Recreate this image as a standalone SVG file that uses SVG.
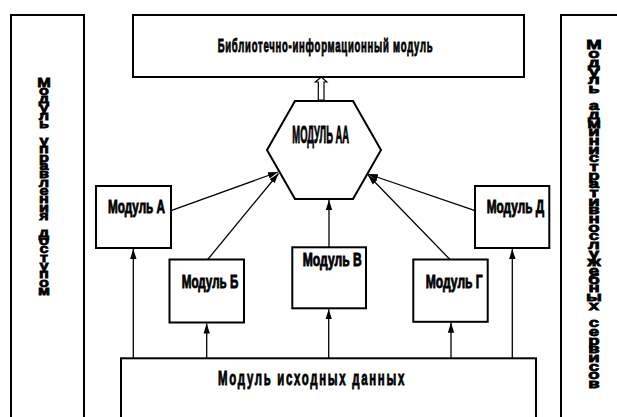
<svg xmlns="http://www.w3.org/2000/svg" width="617" height="417" viewBox="0 0 617 417">
<style>
.box{fill:#fff;stroke:#000;stroke-width:2}
.lbl{font-family:"Liberation Sans",Arial,sans-serif;font-weight:bold;fill:#000;stroke:#000;stroke-width:0.9;text-anchor:middle}
.vt{font-family:"Liberation Sans",Arial,sans-serif;font-weight:bold;font-size:15.5px;fill:#000;stroke:#000;stroke-width:0.9;text-anchor:middle}
.con{fill:none;stroke:#000;stroke-width:1.3}
</style>
<defs>
<marker id="ah" markerUnits="userSpaceOnUse" markerWidth="12" markerHeight="8" refX="10" refY="4" orient="auto">
<path d="M0,0.8 L10,4 L0,7.2 z" fill="#000"/>
</marker>
</defs>
<rect width="617" height="417" fill="#fff"/>

<g id="node-access">
<rect class="box" x="11" y="15" width="73" height="420"/>
<text class="vt" transform="translate(44,0) scale(1.05,0.85)" x="0 0 0 0 0 0 0 0 0 0 0 0 0 0 0 0 0 0 0 0 0 0 0 0 0 0" y="101.8 111.6 121.4 131.2 141.0 150.8 160.6 170.4 180.3 190.1 199.9 209.7 219.5 229.3 239.1 248.9 258.7 268.5 278.3 288.2 298.0 307.8 317.6 327.4 337.2 347.0">Модуль управления доступом</text>
</g>

<g id="node-admin">
<rect class="box" x="561" y="15" width="70" height="420"/>
<text class="vt" transform="translate(594,0) scale(1.2,0.85)" x="0 0 0 0 0 0 0 0 0 0 0 0 0 0 0 0 0 0 0 0 0 0 0 0 0 0 0 0 0 0 0 0 0 0 0 0 0 0 0 0" y="58.2 68.4 78.7 88.9 99.1 109.3 119.5 129.7 139.9 150.1 160.3 170.6 180.8 191.0 201.2 211.4 221.6 231.8 242.0 252.2 262.4 272.7 282.9 293.1 303.3 313.5 323.7 333.9 344.1 354.3 364.5 374.8 385.0 395.2 405.4 415.6 425.8 436.0 446.2 456.4">Модуль административнослужебных сервисов</text>
</g>

<g id="node-library">
<rect class="box" x="133" y="15" width="391" height="62"/>
<text class="lbl" transform="translate(325.5,51.7) scale(0.58,1)" x="0" y="0" font-size="19" letter-spacing="1.5" textLength="372" lengthAdjust="spacingAndGlyphs">Библиотечно-информационный модуль</text>
</g>

<g id="node-aa">
<polygon class="box" points="295,101 353,101 381,150 353,199 295,199 267,150"/>
<text class="lbl" transform="translate(320.7,143.3) scale(0.42,1)" x="0" y="0" font-size="23" textLength="135" lengthAdjust="spacingAndGlyphs">МОДУЛЬ АА</text>
</g>

<g id="node-a">
<rect class="box" x="96" y="186" width="75" height="62"/>
<text class="lbl" transform="translate(136.5,213.3) scale(0.64,1)" x="0" y="0" font-size="18.5" textLength="89" lengthAdjust="spacingAndGlyphs">Модуль А</text>
</g>

<g id="node-b">
<rect class="box" x="169.5" y="259.5" width="74.5" height="63"/>
<text class="lbl" transform="translate(210,288.3) scale(0.64,1)" x="0" y="0" font-size="18.5" textLength="88.4" lengthAdjust="spacingAndGlyphs">Модуль Б</text>
</g>

<g id="node-v">
<rect class="box" x="292.3" y="247.3" width="73.7" height="61"/>
<text class="lbl" transform="translate(332.2,266) scale(0.64,1)" x="0" y="0" font-size="18" textLength="92" lengthAdjust="spacingAndGlyphs">Модуль В</text>
</g>

<g id="node-g">
<rect class="box" x="413.3" y="259.5" width="74.4" height="62.3"/>
<text class="lbl" transform="translate(454.2,288) scale(0.64,1)" x="0" y="0" font-size="18.5" textLength="89" lengthAdjust="spacingAndGlyphs">Модуль Г</text>
</g>

<g id="node-d">
<rect class="box" x="475" y="186" width="74.3" height="62"/>
<text class="lbl" transform="translate(515.4,213.3) scale(0.64,1)" x="0" y="0" font-size="18.5" textLength="89.5" lengthAdjust="spacingAndGlyphs">Модуль Д</text>
</g>

<g id="node-source">
<rect class="box" x="121" y="358.3" width="415" height="80"/>
<text class="lbl" transform="translate(312,385) scale(0.72,1)" x="0" y="0" font-size="20" letter-spacing="3" textLength="261" lengthAdjust="spacingAndGlyphs">Модуль исходных данных</text>
</g>

<g id="connectors">
<polygon points="318.3,100 318.3,82 315.3,82 321.2,77 326.9,82 324,82 324,100" fill="#fff" stroke="#000" stroke-width="1.2"/>
<line class="con" x1="171" y1="210.7" x2="278" y2="172" marker-end="url(#ah)"/>
<line class="con" x1="207.7" y1="259.5" x2="278.5" y2="173.5" marker-end="url(#ah)"/>
<line class="con" x1="475" y1="210.7" x2="368" y2="174" marker-end="url(#ah)"/>
<line class="con" x1="450" y1="259.5" x2="368" y2="175" marker-end="url(#ah)"/>
<line class="con" x1="329" y1="247.3" x2="329" y2="200" marker-end="url(#ah)"/>
<line class="con" x1="133.3" y1="358" x2="133.3" y2="249" marker-end="url(#ah)"/>
<line class="con" x1="206.7" y1="358" x2="206.7" y2="323.5" marker-end="url(#ah)"/>
<line class="con" x1="328.7" y1="358" x2="328.7" y2="309.3" marker-end="url(#ah)"/>
<line class="con" x1="451" y1="358" x2="451" y2="322.8" marker-end="url(#ah)"/>
<line class="con" x1="512.3" y1="358" x2="512.3" y2="249" marker-end="url(#ah)"/>
</g>
</svg>
